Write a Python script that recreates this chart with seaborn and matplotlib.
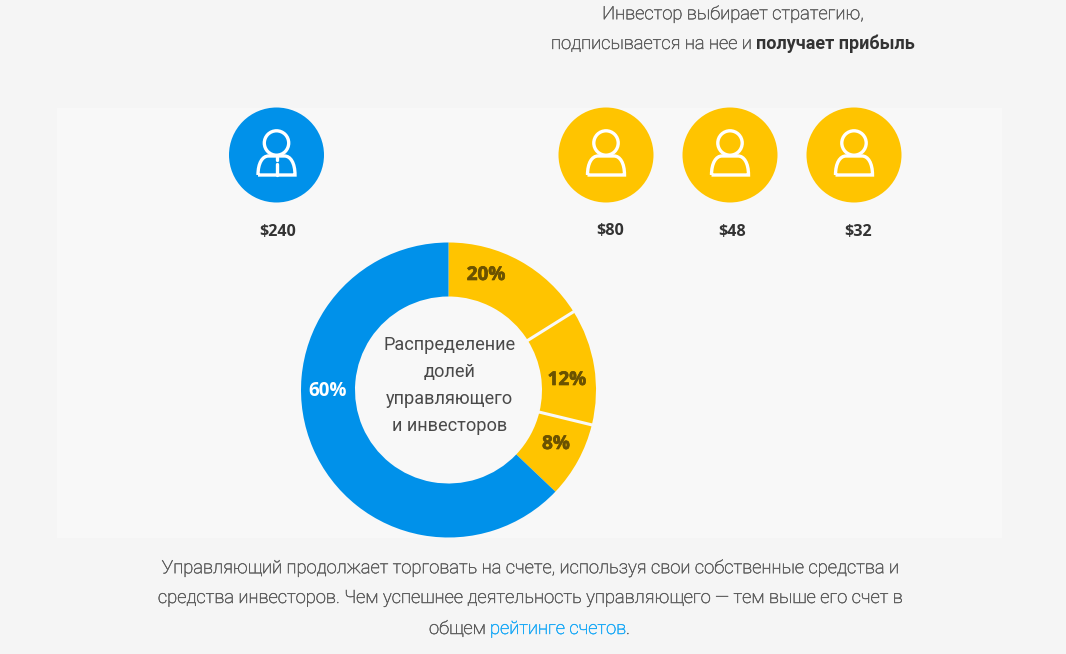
"""Donut of manager / investor shares with avatar row, drawn in pixel coordinates."""
import numpy as np
import pandas as pd
import matplotlib
matplotlib.use("Agg")
import matplotlib.pyplot as plt
import matplotlib.patheffects as pe
from matplotlib.patches import Circle, Rectangle, PathPatch
from matplotlib.path import Path
import seaborn as sns

W, H = 1066, 654
BG, PANEL = "#f5f5f5", "#f8f8f8"
BLUE, YELLOW = "#0091ea", "#ffc400"

# data
roles = ["manager", "investor", "investor", "investor"]
amounts = ["$240", "$80", "$48", "$32"]
avatar_x = [276.5, 606, 730, 854]
amount_x = [277.5, 610, 732, 858]
amount_y = [232, 231, 232, 232]
share_labels = ["20%", "12%", "8%", "60%"]
# slice sizes as drawn in the picture (they do not follow the printed percents)
drawn_shares = [16.1, 12.7, 8.3, 62.9]
slice_colors = [YELLOW, YELLOW, YELLOW, BLUE]
label_x = [486, 567, 556, 328]
label_y = [275, 380, 444, 391]
label_colors = ["#6b5200", "#6b5200", "#6b5200", "#ffffff"]
center_lines = ["Распределение", "долей", "управляющего", "и инвесторов"]
center_y = [345, 372, 399, 426]
body_lines = [
    "Управляющий продолжает торговать на счете, используя свои собственные средства и",
    "средства инвесторов. Чем успешнее деятельность управляющего — тем выше его счет в",
]

sns.set_theme(style="white")
plt.rcParams["font.family"] = ["Roboto", "DejaVu Sans"]


def pixel_axes(rect=(0, 0, 1, 1), zorder=0):
    a = fig.add_axes(rect, zorder=zorder)
    a.set_xlim(0, W)
    a.set_ylim(H, 0)
    a.axis("off")
    return a


fig = plt.figure(figsize=(W / 100, H / 100), dpi=100, facecolor=BG)

# layer order: panel, donut, everything else
bg = pixel_axes(zorder=0)
bg.add_patch(Rectangle((57, 108), 945, 430, fc=PANEL, ec="none"))

R, cx, cy = 147.5, 448.5, 390
dax = fig.add_axes([(cx - R) / W, 1 - (cy + R) / H, 2 * R / W, 2 * R / H], zorder=1)
dax.pie(drawn_shares, colors=slice_colors, startangle=90, counterclock=False, radius=1,
        wedgeprops=dict(width=1 - 93.5 / R, linewidth=0))
dax.set_xlim(-1, 1)
dax.set_ylim(-1, 1)
for i in (0, 1):
    # pale gaps between the yellow slices
    ang = np.deg2rad(90 - sum(drawn_shares[:i + 1]) * 3.6)
    dax.plot([0.62 * np.cos(ang), 1.01 * np.cos(ang)], [0.62 * np.sin(ang), 1.01 * np.sin(ang)],
             color=PANEL, lw=2.2, solid_capstyle="butt", zorder=5)

ax = pixel_axes(zorder=2)

# avatars
df = pd.DataFrame({"x": avatar_x, "y": [155] * 4, "role": roles})
sns.scatterplot(data=df, x="x", y="y", hue="role", palette={"manager": BLUE, "investor": YELLOW},
                s=(95 * 0.72) ** 2, linewidth=0, legend=False, ax=ax, zorder=2)
ax.set_xlim(0, W)
ax.set_ylim(H, 0)
ax.axis("off")


def person(x0, manager=False):
    lw = 2.4
    ax.add_patch(Circle((x0, 143), 12.2, fc="none", ec="white", lw=lw, zorder=3))
    verts = [(x0 - 18.5, 175), (x0 - 18.5, 163), (x0 - 14, 156), (x0 - 8, 156),
             (x0 + 8, 156), (x0 + 14, 156), (x0 + 18.5, 163), (x0 + 18.5, 175),
             (x0 - 18.5, 175)]
    codes = [Path.MOVETO, Path.CURVE4, Path.CURVE4, Path.CURVE4, Path.LINETO,
             Path.CURVE4, Path.CURVE4, Path.CURVE4, Path.LINETO]
    ax.add_patch(PathPatch(Path(verts, codes), fc="none", ec="white", lw=lw, joinstyle="miter", zorder=3))
    if manager:
        ax.plot([x0, x0], [164, 175], color="white", lw=lw, zorder=3)
        ax.plot([x0, x0], [157, 160], color="white", lw=lw, zorder=3)


for px, role in zip(avatar_x, roles):
    person(px, role == "manager")

for px, py, amt in zip(amount_x, amount_y, amounts):
    ax.text(px, py, amt, ha="center", va="center", fontsize=11.6, fontweight="bold",
            family=["Open Sans", "DejaVu Sans"], color="#333333")

for px, py, lab, c in zip(label_x, label_y, share_labels, label_colors):
    # the dark labels are heavier than the white one
    effects = [pe.withStroke(linewidth=0.5, foreground=c)] if c != "#ffffff" else None
    ax.text(px, py, lab, ha="center", va="center", fontsize=13.6, fontweight="bold",
            family=["Open Sans", "DejaVu Sans"], color=c, path_effects=effects)

for line, py in zip(center_lines, center_y):
    ax.text(449.5, py, line, ha="center", va="center", fontsize=13.1, color="#4a4a4a")

# copy above and below
GREY = "#5c5c5c"
LINK = "#1aa9f6"
FS = 13.2


def light_text(x, y, s, color=GREY, ha="left"):
    # Roboto Light comes out too thin here, a hairline stroke brings it up
    ax.text(x, y, s, ha=ha, va="center", fontsize=FS, color=color, fontweight="light",
            path_effects=[pe.withStroke(linewidth=0.35, foreground=color)])


light_text(733, 14, "Инвестор выбирает стратегию,", ha="center")
light_text(551, 44, "подписывается на нее и")
ax.text(756, 44, "получает прибыль", ha="left", va="center", fontsize=13, color="#333333",
        fontweight="bold")
light_text(530, 568, body_lines[0], ha="center")
light_text(530, 598, body_lines[1], ha="center")
light_text(429, 629, "общем")
light_text(490, 629, "рейтинге счетов", color=LINK)
light_text(626, 629, ".")

fig.savefig("out.png", dpi=100, facecolor=BG)
